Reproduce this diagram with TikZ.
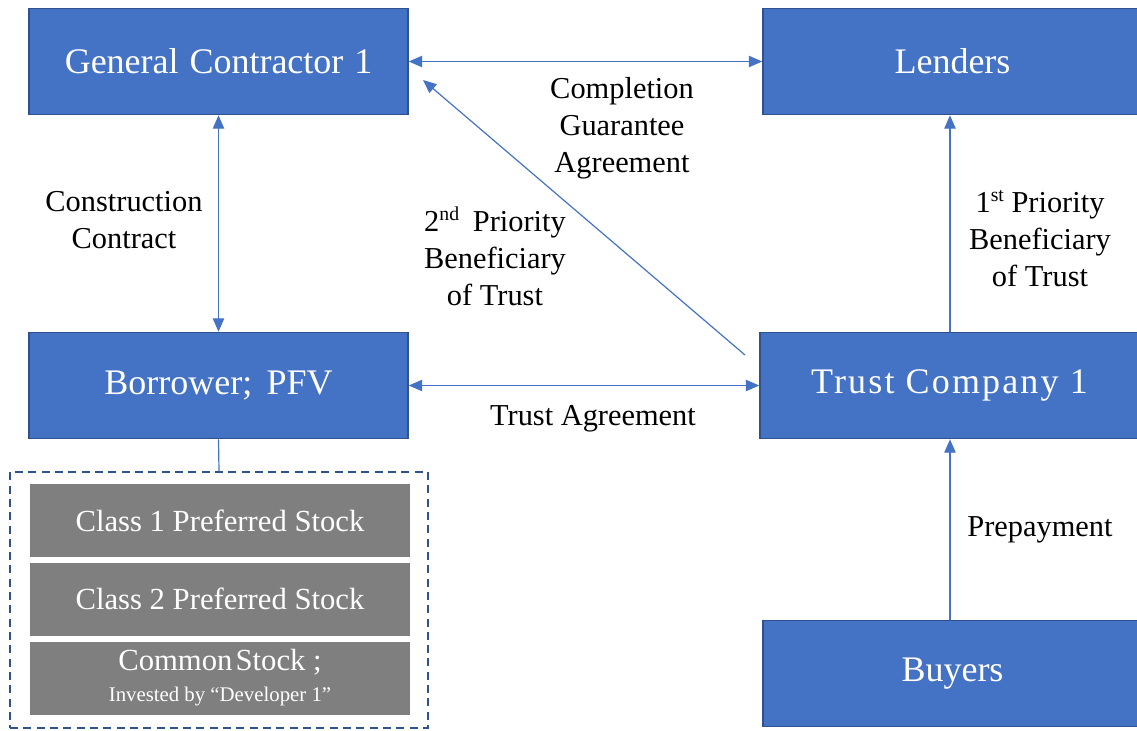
\documentclass[tikz,border=0pt]{standalone}
\usepackage{fontspec}
\usepackage{graphicx}
\newfontfamily\tnr{Liberation Serif}
\usetikzlibrary{arrows.meta}

\definecolor{boxblue}{HTML}{4472C4}
\definecolor{boxedge}{HTML}{2F528F}
\definecolor{stockgray}{HTML}{7F7F7F}

% text is set at 10pt and scaled to size
\newcommand\partytext[1]{\scalebox{0.9}{#1}}
\newcommand\stocktext[1]{\scalebox{0.767}{#1}}
\newcommand\notetext[1]{\scalebox{0.76}{\renewcommand\arraystretch{1.015}\begin{tabular}{@{}c@{}}#1\end{tabular}}}
\newcommand\ordsup[1]{\raisebox{0.75ex}{\scalebox{0.65}{#1}}}

% one unit = 0.25pt
\tikzset{
  party/.style={rectangle, draw=boxedge, line width=0.4pt, fill=boxblue,
    text=white, minimum width=379*0.25pt, minimum height=106*0.25pt,
    inner sep=0pt, font=\tnr},
  stock/.style={rectangle, fill=stockgray, text=white,
    minimum width=380*0.25pt, minimum height=73*0.25pt, inner sep=0pt,
    align=center, font=\tnr},
  group/.style={rectangle, draw=boxedge, line width=0.4pt,
    dash pattern=on 2pt off 1.33pt, minimum width=418*0.25pt,
    minimum height=256*0.25pt, inner sep=0pt},
  link/.style={draw=boxblue, line width=0.3pt},
  tip/.style={-{Triangle[length=3.33pt,width=2.83pt]}},
  twotip/.style={{Triangle[length=3.33pt,width=2.83pt]}-{Triangle[length=3.33pt,width=2.83pt]}},
  note/.style={text=black, inner sep=0pt, font=\tnr},
}

\begin{document}
\begin{tikzpicture}[x=0.25pt, y=-0.25pt]
  \clip (0,0) rectangle (1137,730);
  \fill[white] (0,0) rectangle (1137,730);

  % parties
  \node[party] (gc) at (218.5,61.5) {\partytext{General\hspace{0.3em}Contractor\hspace{0.3em}1}};
  \node[party] (lenders) at (952.5,61.5) {\partytext{Lenders}};
  \node[party] (borrower) at (218.5,385.5) {\partytext{Borrower;\hspace{0.4em}PFV}};
  \node[party] (trust) at (949.5,385.5)
    {\partytext{\addfontfeature{LetterSpace=6}Trust Company 1}};
  \node[party] (buyers) at (952.5,673.5) {\partytext{Buyers}};

  % share classes of the borrower
  \node[group] (stocks) at (219,600) {};
  \node[stock] (pref1) at (220,520.5) {\stocktext{Class 1 Preferred Stock}};
  \node[stock] (pref2) at (220,599) {\stocktext{Class 2 Preferred Stock}};
  \node[stock] (common) at (220,678)
    {\stocktext{Common\hspace{0.1em}Stock ;}\\[-4.25pt]\scalebox{0.52}{Invested by “Developer 1”}};
  \draw[link] (borrower.south) -- (stocks.north);

  % contractual links
  \draw[link, twotip] (gc.east) -- (lenders.west);
  \draw[link, twotip] (gc.south) -- (borrower.north);
  \draw[link, twotip] (borrower.east) -- (trust.west);
  \draw[link, tip] (trust.north -| 950,0) -- (lenders.south -| 950,0);
  \draw[link, tip] (buyers.north -| 950,0) -- (trust.south -| 950,0);
  \coordinate (diagfrom) at (745,355);
  \coordinate (diagto) at (423,80);
  \draw[link, tip] (diagfrom) -- (diagto);

  % labels
  \node[note] (cga) at (622,128) {\notetext{Completion\\Guarantee\\Agreement}};
  \node[note] (cc) at (124,222.5) {\notetext{Construction\\Contract}};
  \node[note] (second) at (495,261)
    {\notetext{2\ordsup{nd}\hspace{0.45em}Priority\\Beneficiary\\of Trust}};
  \node[note] (first) at (1040,242) {\notetext{1\ordsup{st} Priority\\Beneficiary\\of Trust}};
  \node[note] (ta) at (593,418) {\notetext{Trust Agreement}};
  \node[note] (pre) at (1040,529) {\notetext{Prepayment}};
\end{tikzpicture}
\end{document}
